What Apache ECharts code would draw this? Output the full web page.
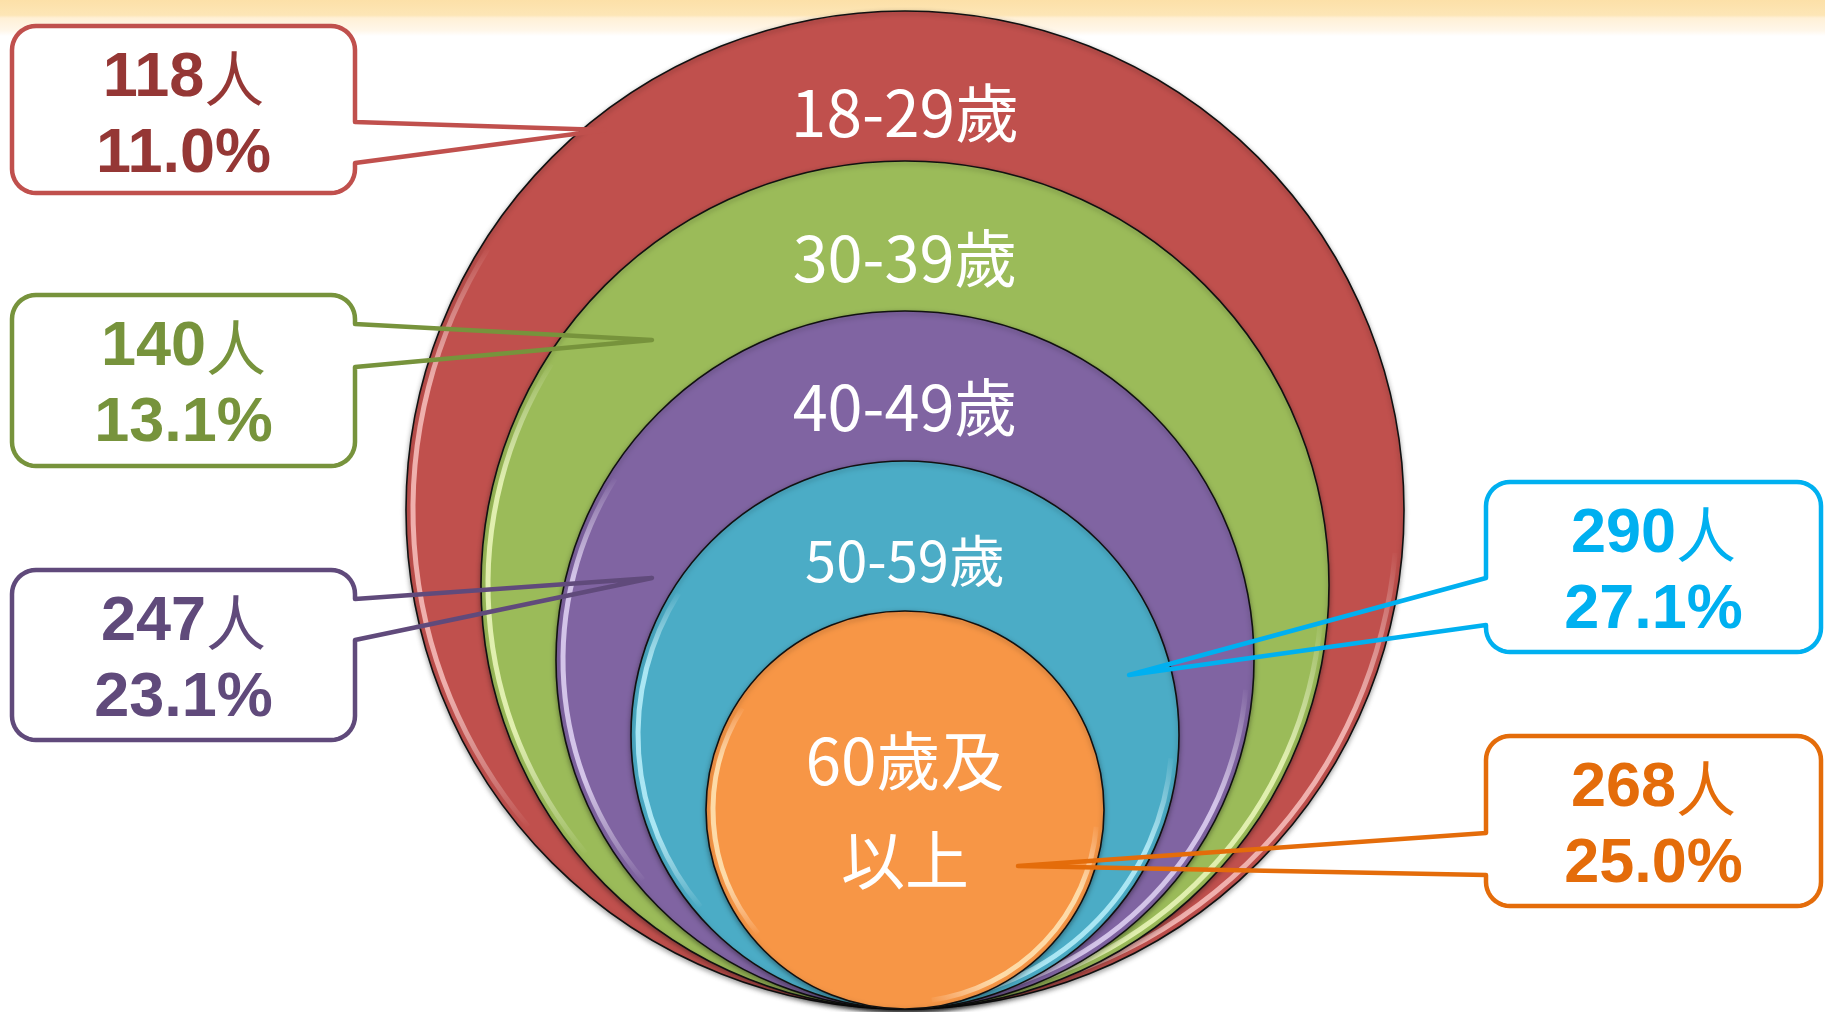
<!DOCTYPE html>
<html>
<head>
<meta charset="utf-8">
<title>年齡分布</title>
<script src="https://cdn.jsdelivr.net/npm/echarts@6/dist/echarts.min.js"></script>
<style>
  html, body { margin: 0; padding: 0; background: #ffffff; }
  #chart { width: 1825px; height: 1012px; }
</style>
</head>
<body>
<div id="chart"></div>
<script>
// ---- data ----
const ageGroups = ['18-29歲', '30-39歲', '40-49歲', '50-59歲', '60歲及\n以上'];
const counts = [118, 140, 247, 290, 268];
const percents = [11.0, 13.1, 23.1, 27.1, 25.0];

// ---- styling ----
const fillColors = ['#C0504D', '#9BBB59', '#8064A2', '#4BACC6', '#F79646'];
const rimColors = ['#FBC8C5', '#F2FCC4', '#E8DCFA', '#C2F5FF', '#FFECC0'];
const strokeColors = ['#C0504D', '#77933C', '#604A7B', '#00B0F0', '#E46C0A'];
const textColors = ['#953735', '#77933C', '#604A7B', '#00B0F0', '#E46C0A'];
const labelSizes = [64, 63, 63, 56, 64];

// ---- layout (pixel space of the hidden axes) ----
const W = 1825, H = 1012;
const CX = 905;          // shared centre line of the nested circles
const BASE = 1009;       // common tangent point at the bottom
const R_OUTER = 499;
const R_STEP = 75;
const LABEL_DROP = [102, 97, 96, 100];  // label distance below each circle's top

// callout boxes: box rect, side the pointer leaves from, pointer base and tip
const callouts = [
  { x: 12,   y: 26,  w: 343, h: 167, side: 'right', a1: 122, a2: 163, tip: [605, 130] },
  { x: 12,   y: 295, w: 343, h: 171, side: 'right', a1: 324, a2: 367, tip: [652, 340] },
  { x: 12,   y: 570, w: 343, h: 170, side: 'right', a1: 599, a2: 640, tip: [652, 578] },
  { x: 1486, y: 482, w: 335, h: 170, side: 'left',  a1: 578, a2: 625, tip: [1129, 675] },
  { x: 1486, y: 736, w: 335, h: 170, side: 'left',  a1: 833, a2: 875, tip: [1018, 866] }
];
const BOX_R = 24;

const chart = echarts.init(document.getElementById('chart'), null, { renderer: 'canvas' });

function deg(a) { return a * Math.PI / 180; }

// light bevel rim that fades out towards both ends of its arc
function rimGradient(color, x0, y0, x1, y1) {
  return new echarts.graphic.LinearGradient(x0, y0, x1, y1, [
    { offset: 0, color: 'rgba(255,255,255,0)' },
    { offset: 0.25, color: color },
    { offset: 0.75, color: color },
    { offset: 1, color: 'rgba(255,255,255,0)' }
  ]);
}

function renderCircle(params, api) {
  const i = api.value(0);
  const r = R_OUTER - i * R_STEP;
  const c = api.coord([CX, BASE - r]);
  const rp = api.size([r, 0])[0];
  const children = [
    {
      type: 'circle',
      shape: { cx: c[0], cy: c[1], r: rp },
      style: {
        fill: fillColors[i], stroke: '#111111', lineWidth: 1.6,
        shadowBlur: 5, shadowColor: 'rgba(0,0,0,0.35)', shadowOffsetY: 2
      }
    },
    {
      type: 'arc',
      shape: { cx: c[0], cy: c[1], r: rp - 7, startAngle: deg(140), endAngle: deg(212), clockwise: true },
      style: { fill: null, stroke: rimGradient(rimColors[i], 0, 0, 0, 1), lineWidth: 5, opacity: 0.8 }
    },
    {
      type: 'arc',
      shape: { cx: c[0], cy: c[1], r: rp - 7, startAngle: deg(5), endAngle: deg(82), clockwise: true },
      style: { fill: null, stroke: rimGradient(rimColors[i], 1, 0, 0, 1), lineWidth: 5, opacity: 0.8 }
    }
  ];
  const lines = ageGroups[i].split('\n');
  if (lines.length === 1) {
    const top = api.coord([CX, BASE - 2 * r + LABEL_DROP[i]]);
    children.push({
      type: 'text', x: top[0], y: top[1],
      style: {
        text: lines[0], fill: '#ffffff',
        fontSize: labelSizes[i], fontFamily: '"Noto Sans CJK TC", "Noto Sans", sans-serif',
        align: 'center', verticalAlign: 'middle'
      }
    });
  } else {
    lines.forEach(function (t, k) {
      const p = api.coord([CX, BASE - r + (k - 0.5) * 99]);
      children.push({
        type: 'text', x: p[0], y: p[1],
        style: {
          text: t, fill: '#ffffff', fontSize: labelSizes[i],
          fontFamily: '"Noto Sans CJK TC", "Noto Sans", sans-serif',
          align: 'center', verticalAlign: 'middle'
        }
      });
    });
  }
  return { type: 'group', children: children };
}

function cornerPts(cx, cy, r, a0, a1, out) {
  const n = 10;
  for (let k = 0; k <= n; k++) {
    const a = deg(a0 + (a1 - a0) * k / n);
    out.push([cx + r * Math.cos(a), cy + r * Math.sin(a)]);
  }
}

function renderCallout(params, api) {
  const i = api.value(0);
  const b = callouts[i];
  const L = b.x, T = b.y, R = b.x + b.w, B = b.y + b.h, rr = BOX_R;
  const pts = [];
  if (b.side === 'right') {
    pts.push([R, b.a1], b.tip, [R, b.a2]);
    cornerPts(R - rr, B - rr, rr, 0, 90, pts);
    cornerPts(L + rr, B - rr, rr, 90, 180, pts);
    cornerPts(L + rr, T + rr, rr, 180, 270, pts);
    cornerPts(R - rr, T + rr, rr, 270, 360, pts);
  } else {
    pts.push([L, b.a2], b.tip, [L, b.a1]);
    cornerPts(L + rr, T + rr, rr, 180, 270, pts);
    cornerPts(R - rr, T + rr, rr, 270, 360, pts);
    cornerPts(R - rr, B - rr, rr, 0, 90, pts);
    cornerPts(L + rr, B - rr, rr, 90, 180, pts);
  }
  const px = pts.map(function (p) { return api.coord(p); });
  const tl = api.coord([L, T]);
  const sz = api.size([b.w, b.h]);
  const mid = (L + R) / 2;
  const l1 = api.coord([mid, T + 53]);
  const l2 = api.coord([mid, T + 129]);
  const col = textColors[i];
  return {
    type: 'group',
    children: [
      { type: 'rect', shape: { x: tl[0], y: tl[1], width: sz[0], height: sz[1], r: rr }, style: { fill: '#ffffff' } },
      { type: 'polygon', shape: { points: px }, style: { fill: null, stroke: strokeColors[i], lineWidth: 4.5, lineJoin: 'round' } },
      {
        type: 'text', x: l1[0], y: l1[1],
        style: {
          text: '{n|' + counts[i] + '}{u|人}',
          align: 'center', verticalAlign: 'middle',
          rich: {
            n: { fontSize: 63, fontWeight: 'bold', fontFamily: '"Liberation Sans", Arial, sans-serif', fill: col },
            u: { fontSize: 60, fontWeight: 'normal', fontFamily: '"Noto Sans CJK TC", sans-serif', fill: col }
          }
        }
      },
      {
        type: 'text', x: l2[0], y: l2[1],
        style: {
          text: percents[i].toFixed(1) + '%', fill: col,
          fontSize: 63, fontWeight: 'bold', fontFamily: '"Liberation Sans", Arial, sans-serif',
          align: 'center', verticalAlign: 'middle'
        }
      }
    ]
  };
}

const option = {
  backgroundColor: '#ffffff',
  animation: false,
  graphic: [
    {
      type: 'rect', z: -10, left: 0, top: 0,
      shape: { width: W, height: 36 },
      style: {
        fill: new echarts.graphic.LinearGradient(0, 0, 0, 1, [
          { offset: 0, color: '#FCE0A8' },
          { offset: 0.42, color: '#FDE6B6' },
          { offset: 0.5, color: '#FFF0D6' },
          { offset: 0.85, color: '#FFF7EA' },
          { offset: 1, color: '#FFFFFF' }
        ])
      }
    }
  ],
  grid: { left: 0, right: 0, top: 0, bottom: 0 },
  xAxis: { type: 'value', min: 0, max: W, show: false },
  yAxis: { type: 'value', min: 0, max: H, inverse: true, show: false },
  series: [
    {
      type: 'custom', name: 'circles', z: 2,
      renderItem: renderCircle,
      data: ageGroups.map(function (g, i) { return [i]; })
    },
    {
      type: 'custom', name: 'callouts', z: 5,
      renderItem: renderCallout,
      data: counts.map(function (c, i) { return [i]; })
    }
  ]
};

chart.setOption(option);
</script>
</body>
</html>
